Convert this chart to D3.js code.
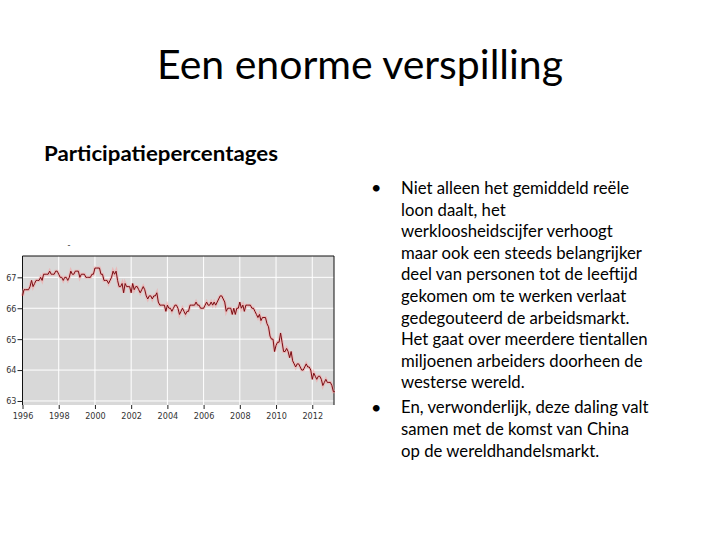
<!DOCTYPE html>
<html lang="nl">
<head>
  <meta charset="UTF-8">
  <title>Een enorme verspilling</title>
  <script src="https://d3js.org/d3.v7.min.js"></script>
  <style>
    body { margin: 0; background: #fff; }
    svg { display: block; }
    .slide text { font-family: Lato, "Open Sans", sans-serif; fill: #000; }
    .chart text { font-family: "DejaVu Sans Condensed", "Liberation Sans Narrow", sans-serif; font-size: 9px; fill: #333; }
  </style>
</head>
<body>
<div class="canvas"></div>
<script>
  // data: arbeidsparticipatie (%), maandcijfers jan 1996 - apr 2013
  const years = [1996, 1997, 1998, 1999, 2000, 2001, 2002, 2003, 2004,
                 2005, 2006, 2007, 2008, 2009, 2010, 2011, 2012, 2013];
  const rates = [
    [66.4, 66.6, 66.6, 66.6, 66.6, 66.7, 66.9, 66.7, 66.8, 66.9, 66.9, 66.9],
    [67.0, 66.9, 67.1, 67.1, 67.1, 67.1, 67.2, 67.1, 67.1, 67.1, 67.2, 67.2],
    [67.1, 67.0, 67.0, 66.9, 67.0, 67.0, 66.9, 67.0, 67.2, 67.1, 67.1, 67.2],
    [67.2, 67.2, 67.0, 67.1, 67.1, 67.1, 67.0, 67.0, 67.0, 67.0, 67.1, 67.1],
    [67.3, 67.3, 67.3, 67.3, 67.1, 67.1, 66.9, 66.9, 66.9, 66.8, 66.9, 67.0],
    [67.2, 67.1, 67.2, 66.9, 66.7, 66.7, 66.8, 66.5, 66.8, 66.7, 66.7, 66.7],
    [66.5, 66.8, 66.6, 66.7, 66.7, 66.6, 66.5, 66.6, 66.7, 66.6, 66.4, 66.3],
    [66.4, 66.4, 66.3, 66.4, 66.4, 66.5, 66.2, 66.1, 66.1, 66.1, 66.1, 65.9],
    [66.1, 66.0, 66.0, 65.9, 66.0, 66.1, 66.1, 66.0, 65.8, 65.9, 66.0, 65.9],
    [65.8, 65.9, 65.9, 66.1, 66.1, 66.1, 66.1, 66.2, 66.1, 66.1, 66.0, 66.0],
    [66.0, 66.1, 66.2, 66.1, 66.1, 66.2, 66.1, 66.2, 66.1, 66.2, 66.3, 66.4],
    [66.4, 66.3, 66.2, 65.9, 66.0, 66.0, 66.0, 65.8, 66.0, 65.8, 66.0, 66.0],
    [66.2, 66.0, 66.1, 65.9, 66.1, 66.1, 66.1, 66.1, 66.0, 66.0, 65.9, 65.8],
    [65.7, 65.8, 65.6, 65.7, 65.7, 65.7, 65.5, 65.4, 65.1, 65.0, 65.0, 64.6],
    [64.8, 64.9, 64.9, 65.2, 64.9, 64.6, 64.6, 64.7, 64.6, 64.4, 64.6, 64.3],
    [64.2, 64.1, 64.2, 64.2, 64.1, 64.0, 64.0, 64.1, 64.2, 64.1, 64.1, 64.0],
    [63.7, 63.9, 63.8, 63.7, 63.8, 63.8, 63.7, 63.5, 63.6, 63.7, 63.6, 63.6],
    [63.6, 63.5, 63.3, 63.3]
  ];
  const xTicks = [1996, 1998, 2000, 2002, 2004, 2006, 2008, 2010, 2012];
  const yTicks = [63, 64, 65, 66, 67];

  const titleText = "Een enorme verspilling";
  const subtitleText = "Participatiepercentages";
  const bullet1 = [
    "Niet alleen het gemiddeld reële",
    "loon daalt, het",
    "werkloosheidscijfer verhoogt",
    "maar ook een steeds belangrijker",
    "deel van personen tot de leeftijd",
    "gekomen om te werken verlaat",
    "gedegouteerd de arbeidsmarkt.",
    "Het gaat over meerdere tientallen",
    "miljoenen arbeiders doorheen de",
    "westerse wereld."
  ];
  const bullet2 = [
    "En, verwonderlijk, deze daling valt",
    "samen met de komst van China",
    "op de wereldhandelsmarkt."
  ];

  // maandreeks opbouwen
  const series = [];
  years.forEach((y, i) => {
    rates[i].forEach((v, m) => series.push({ t: y + m / 12, v: v }));
  });

  const svg = d3.select('.canvas')
    .append('svg')
    .attr('width', 720)
    .attr('height', 540);

  // --- dia teksten ---
  const slide = svg.append('g').attr('class', 'slide');

  slide.append('text')
    .attr('x', 360).attr('y', 79)
    .attr('text-anchor', 'middle')
    .attr('font-size', 40)
    .attr('textLength', 406)
    .attr('lengthAdjust', 'spacingAndGlyphs')
    .text(titleText);

  slide.append('text')
    .attr('x', 44).attr('y', 161)
    .attr('font-size', 20)
    .attr('font-weight', 'bold')
    .attr('textLength', 234)
    .attr('lengthAdjust', 'spacingAndGlyphs')
    .text(subtitleText);

  const lineH = 21.6;
  const paras = [
    { lines: bullet1, y0: 194 },
    { lines: bullet2, y0: 413.5 }
  ];
  paras.forEach(p => {
    slide.append('text')
      .attr('x', 371).attr('y', p.y0)
      .attr('font-size', 18)
      .text('•');
    // Calibri is smaller dan Lato: horizontaal iets samendrukken
    const block = slide.append('g')
      .attr('transform', 'translate(401,0) scale(0.93,1)');
    block.selectAll('text')
      .data(p.lines)
      .enter()
      .append('text')
      .attr('x', 0)
      .attr('y', (d, i) => p.y0 + i * lineH)
      .attr('font-size', 18)
      .text(d => d);
  });

  // --- grafiek ---
  const x = d3.scaleLinear().domain([1996, 2013.2]).range([22.5, 334]);
  const y = d3.scaleLinear().domain([62.87, 67.69]).range([405, 256]);

  const chart = svg.append('g').attr('class', 'chart');

  chart.append('rect')
    .attr('x', x.range()[0]).attr('y', y.range()[1])
    .attr('width', x.range()[1] - x.range()[0])
    .attr('height', y.range()[0] - y.range()[1])
    .attr('fill', '#d8d8d8');

  // rasterlijnen
  chart.selectAll('.hgrid')
    .data(yTicks)
    .enter()
    .append('line')
    .attr('x1', x.range()[0]).attr('x2', x.range()[1])
    .attr('y1', d => y(d)).attr('y2', d => y(d))
    .attr('stroke', '#fff').attr('stroke-width', 1);

  chart.selectAll('.vgrid')
    .data(xTicks.slice(1))
    .enter()
    .append('line')
    .attr('x1', d => x(d)).attr('x2', d => x(d))
    .attr('y1', y.range()[1]).attr('y2', y.range()[0])
    .attr('stroke', '#fff').attr('stroke-width', 1);

  // rand: links, boven, rechts
  chart.append('path')
    .attr('d', `M${x.range()[0]},${y.range()[0]}V${y.range()[1]}H${x.range()[1]}V${y.range()[0]}`)
    .attr('fill', 'none')
    .attr('stroke', '#111')
    .attr('stroke-width', 1);

  // assen
  const yAxis = d3.axisLeft(y).tickValues(yTicks).tickSize(5).tickPadding(1).tickFormat(d3.format('d'));
  const xAxis = d3.axisBottom(x).tickValues(xTicks).tickSize(4).tickPadding(4).tickFormat(d3.format('d'));

  chart.append('g')
    .attr('transform', `translate(${x.range()[0]},0)`)
    .call(yAxis)
    .call(g => g.select('.domain').remove())
    .call(g => g.selectAll('line').attr('stroke', '#222'))
    .call(g => g.selectAll('text').attr('fill', '#333').attr('font-size', 9)
      .attr('font-family', '"DejaVu Sans Condensed", "Liberation Sans Narrow", sans-serif'));

  chart.append('g')
    .attr('transform', `translate(0,${y.range()[0]})`)
    .call(xAxis)
    .call(g => g.select('.domain').remove())
    .call(g => g.selectAll('line').attr('stroke', '#222'))
    .call(g => g.selectAll('text').attr('fill', '#333').attr('font-size', 9)
      .attr('font-family', '"DejaVu Sans Condensed", "Liberation Sans Narrow", sans-serif'));

  // klein titelstreepje boven de grafiek
  chart.append('text')
    .attr('x', 69).attr('y', 248)
    .attr('text-anchor', 'middle')
    .text('-');

  // lijn met roze gloed
  const line = d3.line().x(d => x(d.t)).y(d => y(d.v));

  chart.append('path')
    .datum(series)
    .attr('d', line)
    .attr('fill', 'none')
    .attr('stroke', '#f3a6a6')
    .attr('stroke-opacity', 0.6)
    .attr('stroke-width', 3);

  chart.append('path')
    .datum(series)
    .attr('d', line)
    .attr('fill', 'none')
    .attr('stroke', '#7a0c12')
    .attr('stroke-width', 1);
</script>
</body>
</html>
